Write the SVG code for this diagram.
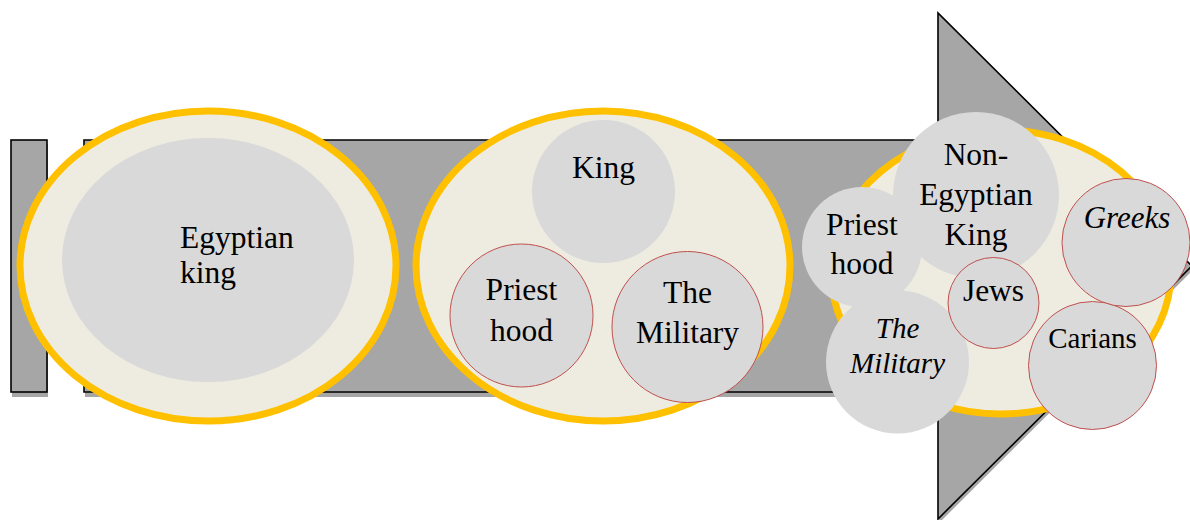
<svg xmlns="http://www.w3.org/2000/svg" width="1190" height="520" viewBox="0 0 1190 520">
<style>
.bar{fill:#A6A6A6;stroke:#000;stroke-width:1.6}
.shadow{fill:#A6A6A6;stroke:none}
.oval{fill:#EEECE1;stroke:#FFC000;stroke-width:7}
.c{fill:#D9D9D9;stroke:none}
.cr{fill:#D9D9D9;stroke:#C0504D;stroke-width:1}
.m{text-anchor:middle}
</style>
<g id="bar">
<rect class="shadow" x="12" y="144" width="36" height="253"/>
<rect class="bar" x="11" y="140" width="36" height="252"/>
</g>
<g id="arrow">
<path class="shadow" d="M85,144 H939 V17 L1193,270 L939,523 V397 H85 Z"/>
<path class="bar" d="M84,140 H938 V13 L1192,266 L938,519 V392 H84 Z"/>
</g>
<g id="stage1">
<ellipse class="oval" cx="208" cy="266" rx="188" ry="155"/>
<ellipse class="c" cx="208" cy="260" rx="146" ry="122"/>
<text font-family="Liberation Serif" font-size="31.5" x="180" y="248">Egyptian</text>
<text font-family="Liberation Serif" font-size="31.5" x="180" y="283">king</text>
</g>
<g id="stage2">
<ellipse class="oval" cx="603" cy="266" rx="187" ry="155"/>
<g id="king2">
<circle class="c" cx="603.5" cy="191.5" r="71.5"/>
<text class="m" font-family="Liberation Serif" font-size="31.5" x="603.5" y="178">King</text>
</g>
<g id="priesthood2">
<circle class="cr" cx="521.5" cy="315.5" r="71.5"/>
<text class="m" font-family="Liberation Serif" font-size="31.5" x="521.5" y="300">Priest</text>
<text class="m" font-family="Liberation Serif" font-size="31.5" x="521.5" y="341">hood</text>
</g>
<g id="military2">
<circle class="cr" cx="687.5" cy="327" r="75.5"/>
<text class="m" font-family="Liberation Serif" font-size="31.5" x="687.5" y="303">The</text>
<text class="m" font-family="Liberation Serif" font-size="31.5" x="687.5" y="343">Military</text>
</g>
</g>
<g id="stage3">
<ellipse class="oval" cx="1001" cy="272" rx="170" ry="142"/>
<g id="nonegyptian">
<circle class="c" cx="976" cy="195" r="83"/>
<text class="m" font-family="Liberation Serif" font-size="31.5" x="976" y="165">Non-</text>
<text class="m" font-family="Liberation Serif" font-size="31.5" x="976" y="205">Egyptian</text>
<text class="m" font-family="Liberation Serif" font-size="31.5" x="976" y="245">King</text>
</g>
<g id="priesthood3">
<circle class="c" cx="862" cy="247" r="60"/>
<text class="m" font-family="Liberation Serif" font-size="31.5" x="862" y="235">Priest</text>
<text class="m" font-family="Liberation Serif" font-size="31.5" x="862" y="274">hood</text>
</g>
<g id="military3">
<circle class="c" cx="897.5" cy="362" r="71.5"/>
<text class="m" font-family="Liberation Serif" font-style="italic" font-size="29" x="897.5" y="338">The</text>
<text class="m" font-family="Liberation Serif" font-style="italic" font-size="29" x="897.5" y="373">Military</text>
</g>
<g id="jews">
<circle class="cr" cx="993.5" cy="303" r="45.5"/>
<text class="m" font-family="Liberation Serif" font-size="31.5" x="993.5" y="301">Jews</text>
</g>
<g id="carians">
<circle class="cr" cx="1092.5" cy="365.5" r="64"/>
<text class="m" font-family="Liberation Serif" font-size="29" x="1092.5" y="348">Carians</text>
</g>
<g id="greeks">
<circle class="cr" cx="1126" cy="242.5" r="64"/>
<text class="m" font-family="Liberation Serif" font-style="italic" font-size="31" x="1127" y="228">Greeks</text>
</g>
</g>
<g id="connectors"/>
</svg>
